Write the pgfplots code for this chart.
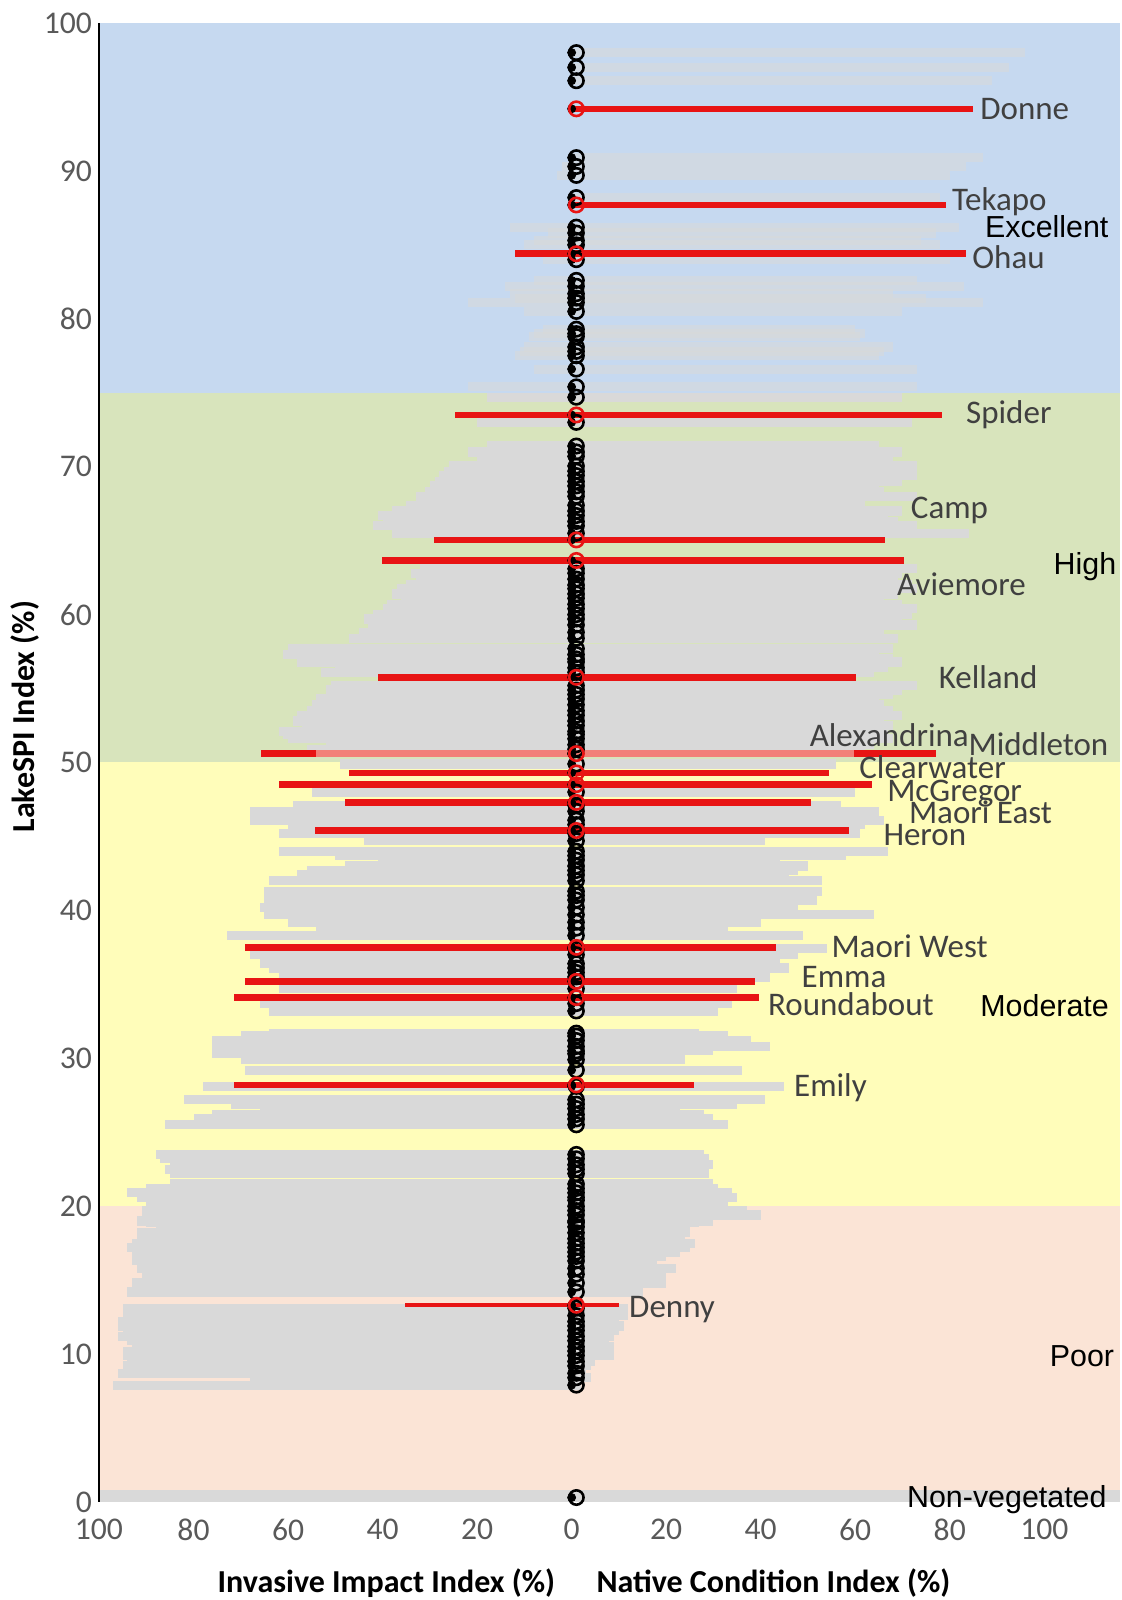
\documentclass[border=0pt]{standalone}
\usepackage{pgfplots}
\pgfplotsset{compat=1.18}
\usepackage{pgfplotstable}
\usepackage{fontspec}
\setmainfont{Carlito}
\newfontfamily\arialf{Liberation Sans}
\definecolor{bandblue}{RGB}{198,217,240}
\definecolor{bandgreen}{RGB}{216,228,188}
\definecolor{bandyellow}{RGB}{255,253,186}
\definecolor{bandpeach}{RGB}{251,228,214}
\definecolor{bandgrey}{RGB}{217,217,217}
\definecolor{bargrey}{RGB}{217,217,217}
\definecolor{barred}{RGB}{232,20,20}
\definecolor{salmon}{RGB}{242,128,120}
\definecolor{labgrey}{RGB}{64,64,64}
\definecolor{tickgrey}{RGB}{89,89,89}

\pgfplotstableread{
y inv nat
98.0 0 96
97.0 0 92.5
96.1 0 89
90.9 0 87
90.3 2 83.5
89.7 3 80
88.2 0 78
86.2 13 82
85.8 5 77
85.3 8 74
85.0 10 78
84.0 6 80
82.6 8 73
82.2 14 83
81.7 13 68
81.4 12 75
81.1 22 87
80.5 10 70
79.3 6 60
79.0 8 62
78.8 9 61
78.1 10 68
77.8 11 66
77.5 12 65
76.6 8 73
75.4 22 73
74.7 18 70
73.0 20 72
71.4 18 65
71.0 22 70
70.7 20 68
70.05 26 73
69.7 27 68
69.4 28 73
69.0 29 70
68.7 30 65
68.3 31 66
68.0 33 73
67.4 35 62
67.0 38 70
66.7 41 67
66.3 40 69
66.0 42 73
65.5 38 84
63.1 32 73
62.8 34 70
62.4 33 69
62.0 35 72
61.75 37 73
61.4 38 69
61.1 36 66
60.7 39 70
60.4 40 73
60.0 42 72
59.7 44 70
59.3 43 73
58.8 45 66
58.4 47 69
57.7 60 68
57.3 61 65
57.0 58 68
56.8 58 70
56.4 50 67
56.1 53 64
55.2 51 73
54.9 52 70
54.6 50 68
54.3 54 65
53.9 55 66
53.5 56 68
53.2 58 70
52.8 59 66
52.5 57 68
52.1 62 66
51.9 61 67
51.6 60 68
51.2 52 64
50.9 56 62
49.9 49 56
48.0 55 60
47.1 59 57
46.7 68 65
46.1 68 66
45.8 60 62
45.2 62 61
44.7 44 41
44.0 62 67
43.7 50 58
43.4 41 44
43.0 48 50
42.7 56 48
42.4 58 46
42.0 64 53
41.3 65 53
41.0 63 50
40.7 65 52
40.2 66 48
39.7 65 64
39.2 60 40
38.8 54 33
38.3 73 49
37.4 67 54
37.0 68 48
36.4 66 44
36.1 64 46
35.8 60 40
35.5 62 42
34.7 62 35
33.7 66 34
33.2 64 31
31.7 64 27
31.5 70 33
31.2 76 38
30.8 76 42
30.5 75 30
30.3 76 22
29.9 70 24
29.2 69 36
28.1 78 45
27.2 82 41
26.9 72 35
26.6 66 23
26.2 76 28
25.9 80 30
25.5 86 33
23.5 88 28
23.2 87 29
22.8 85 30
22.5 86 27
22.2 85 29
21.5 85 30
21.2 90 31
20.9 94 34
20.6 92 35
20.4 90 33
20.0 90 33
19.7 91 37
19.4 91 40
19.0 92 30
18.9 90 27
18.6 88 25
18.2 92 25
17.8 92 24
17.5 93 26
17.2 94 25
16.9 93 23
16.6 93 20
16.3 93 18
15.8 92 22
15.4 91 20
14.8 93 20
14.2 94 15
13.1 95 12
12.6 95 12
12.2 96 10
11.9 96 11
11.6 95 10
11.2 96 9
10.9 94 8
10.5 93 9
10.2 95 7
9.9 95 9
9.5 94 5
9.2 95 4
8.7 96 3
8.4 68 4
7.9 97 2
0.3 0 0
}\greydata

\pgfplotstableread{
y inv nat
94.2 0 85
87.7 0 79.3
84.4 12 83.4
73.5 24.6 78.4
65.05 29.2 66.3
63.66 40.2 70.3
55.76 40.9 60.1
50.6 65.7 77.1
49.3 47.2 54.4
48.5 62 63.6
47.3 47.9 50.6
45.4 54.3 58.7
37.5 69.1 43.2
35.2 69.1 38.9
34.1 71.4 39.6
28.2 71.4 25.8
}\reddata

\pgfplotstableread{
y inv nat
13.3 35.2 10
}\dennydata

\pgfplotstableread{
y inv nat
50.6 54 59.8
}\alexdata

\begin{document}
\begin{tikzpicture}
\begin{axis}[
  scale only axis, width=510.5pt, height=739.5pt,
  xmin=-100, xmax=116, ymin=0, ymax=100,
  axis lines*=left,
  x axis line style={draw=none},
  y axis line style={draw=black, line width=1.3pt},
  major tick length=0pt,
  xtick={-100,-80,-60,-40,-20,0,20,40,60,80,100},
  xticklabels={100,80,60,40,20,0,20,40,60,80,100},
  ytick={0,10,20,30,40,50,60,70,80,90,100},
  yticklabels={0,10,20,30,40,50,60,70,80,90,100},
  ticklabel style={font=\fontsize{15.8}{19}\selectfont, text=tickgrey},
  xticklabel style={yshift=-5pt},
  clip=false,
  axis on top=true,
]
% background bands
\addplot[draw=none, fill=bandgrey] coordinates {(-100,0) (116,0) (116,0.8) (-100,0.8)} -- cycle;
\addplot[draw=none, fill=bandpeach] coordinates {(-100,0.8) (116,0.8) (116,20) (-100,20)} -- cycle;
\addplot[draw=none, fill=bandyellow] coordinates {(-100,20) (116,20) (116,50) (-100,50)} -- cycle;
\addplot[draw=none, fill=bandgreen] coordinates {(-100,50) (116,50) (116,75) (-100,75)} -- cycle;
\addplot[draw=none, fill=bandblue] coordinates {(-100,75) (116,75) (116,100) (-100,100)} -- cycle;

% grey bars (all lakes)
\addplot[only marks, mark=none, restrict y to domain=0:75,
  error bars/.cd, x dir=both, x explicit, error mark=none,
  error bar style={draw=bargrey, line width=4.6pt}]
  table[x expr=0, y=y, x error plus=nat, x error minus=inv] {\greydata};
\addplot[only marks, mark=none, restrict y to domain=75:100,
  error bars/.cd, x dir=both, x explicit, error mark=none,
  error bar style={draw=bargrey, draw opacity=0.55, line width=4.6pt}]
  table[x expr=0, y=y, x error plus=nat, x error minus=inv] {\greydata};

% black circles
\addplot[only marks, mark=o, mark size=3.6pt, mark options={line width=1.3pt, draw=black}]
  table[x expr=1, y=y] {\greydata};

% highlighted lakes
\addplot[only marks, mark=none,
  error bars/.cd, x dir=both, x explicit, error mark=none,
  error bar style={draw=barred, line width=3.3pt}]
  table[x expr=0, y=y, x error plus=nat, x error minus=inv] {\reddata};
\addplot[only marks, mark=none,
  error bars/.cd, x dir=both, x explicit, error mark=none,
  error bar style={draw=salmon, line width=3.3pt}]
  table[x expr=0, y=y, x error plus=nat, x error minus=inv] {\alexdata};
\addplot[only marks, mark=none,
  error bars/.cd, x dir=both, x explicit, error mark=none,
  error bar style={draw=barred, line width=2pt}]
  table[x expr=0, y=y, x error plus=nat, x error minus=inv] {\dennydata};
\addplot[only marks, mark=o, mark size=3.6pt, mark options={line width=1.3pt, draw=barred}]
  table[x expr=1, y=y] {\reddata};
\addplot[only marks, mark=o, mark size=3.6pt, mark options={line width=1.3pt, draw=barred}]
  table[x expr=1, y=y] {\dennydata};

% lake names
\begin{scope}[every node/.style={anchor=base west, inner sep=0pt, text=labgrey, font=\fontsize{16.5}{19}\selectfont}]
\node at (axis cs:86.4,93.5) {Donne};
\node at (axis cs:80.4,87.3) {Tekapo};
\node at (axis cs:84.7,83.4) {Ohau};
\node at (axis cs:83.4,72.9) {Spider};
\node at (axis cs:71.7,66.5) {Camp};
\node at (axis cs:68.8,61.3) {Aviemore};
\node at (axis cs:77.6,55.0) {Kelland};
\node at (axis cs:50.3,51.07) {Alexandrina};
\node at (axis cs:83.9,50.5) {Middleton};
\node at (axis cs:60.8,48.9) {Clearwater};
\node at (axis cs:66.7,47.35) {McGregor};
\node at (axis cs:71.3,45.9) {Maori East};
\node at (axis cs:65.9,44.4) {Heron};
\node at (axis cs:54.9,36.8) {Maori West};
\node at (axis cs:48.6,34.8) {Emma};
\node at (axis cs:41.5,32.9) {Roundabout};
\node at (axis cs:47.0,27.4) {Emily};
\node at (axis cs:12.1,12.5) {Denny};
\end{scope}

% category names
\begin{scope}[every node/.style={anchor=base west, inner sep=0pt, text=black, font=\arialf\fontsize{15.2}{18}\selectfont}]
\node at (axis cs:87.4,85.5) {Excellent};
\node at (axis cs:101.9,62.7) {High};
\node at (axis cs:86.4,32.8) {Moderate};
\node at (axis cs:101.1,9.15) {Poor};
\node at (axis cs:70.9,-0.4) {Non-vegetated};
\end{scope}

% axis titles
\node[rotate=90, font=\bfseries\fontsize{16}{19}\selectfont, inner sep=0pt] at (rel axis cs:-0.072,0.531) {LakeSPI Index (\%)};
\node[font=\bfseries\fontsize{16}{19}\selectfont, inner sep=0pt] at (axis cs:-39.2,-5.48) {Invasive Impact Index (\%)};
\node[font=\bfseries\fontsize{16}{19}\selectfont, inner sep=0pt] at (axis cs:42.7,-5.48) {Native Condition Index (\%)};

% page extent
\path (axis cs:-120.94,-6.63) rectangle (axis cs:116.42,101.56);
\end{axis}
\end{tikzpicture}
\end{document}
